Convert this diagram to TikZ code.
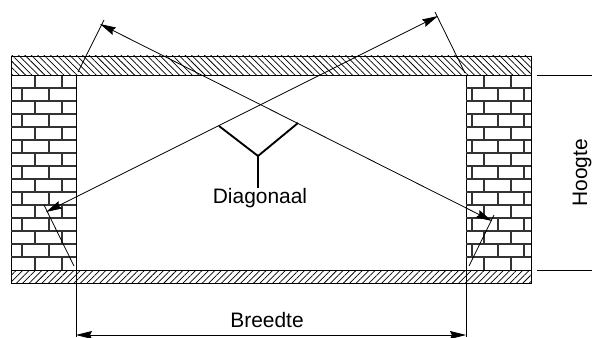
\documentclass[tikz,border=0pt]{standalone}
\usepackage{fontspec}
\setmainfont{Liberation Sans}
\usetikzlibrary{arrows.meta,patterns.meta,positioning}
\tikzstyle{slab}=[draw=black,line width=0.65pt]
\tikzstyle{wall}=[draw=black,line width=0.65pt,fill=white]
\tikzstyle{joint}=[draw=black!80,line width=0.9pt]
\tikzstyle{dimline}=[{Stealth[length=12pt,width=6pt,inset=1.5pt]}-{Stealth[length=12pt,width=6pt,inset=1.5pt]},line width=0.6pt]
\tikzstyle{extline}=[line width=0.6pt]
\tikzstyle{pointer}=[line width=1.4pt]
\tikzstyle{label}=[inner sep=0pt,font=\fontsize{15.7}{18}\selectfont]
\begin{document}
\begin{tikzpicture}[x=0.75pt,y=-0.75pt]
\useasboundingbox (0,0) rectangle (592,338);

% walls
\draw [wall] (11,75) rectangle (76,270);
\draw [wall] (466,75) rectangle (531,270);
\foreach \y in {88,101,...,257} {
  \draw [joint] (11,\y) -- (76,\y);
  \draw [joint] (466,\y) -- (531,\y);
}
\foreach \y in {75,101,...,257} {
  \foreach \x in {35,62,484,511} \draw [joint] (\x,\y) -- (\x,\y+13);
}
\foreach \y in {88,114,...,244} {
  \foreach \x in {22,49,472,498,524} \draw [joint] (\x,\y) -- (\x,\y+13);
}

% slabs
\draw [slab,pattern={Lines[angle=-45,distance=3.4pt,line width=0.55pt]}] (11,56) rectangle (531,75);
\draw [slab,pattern={Lines[angle=45,distance=3.4pt,line width=0.55pt]}] (11,270) rectangle (531,283);

% diagonals
\coordinate (tipa) at (100,24);
\coordinate (tipb) at (492,221);
\coordinate (tipc) at (46,212);
\coordinate (tipd) at (438,16);
\draw [dimline] (tipa) -- (tipb);
\draw [dimline] (tipc) -- (tipd);
\draw [extline] (78,72) -- (104,20);
\draw [extline] (44,205) -- (74,266);
\draw [extline] (435,12) -- (465,73);
\draw [extline] (494,215) -- (469,266);

% width
\coordinate (lefta) at (76,270);
\coordinate (leftb) at (76,337);
\coordinate (righta) at (466,270);
\coordinate (rightb) at (466,337);
\draw [extline] (lefta) -- (leftb);
\draw [extline] (righta) -- (rightb);
\draw [dimline] (76,335) -- (466,335);
\node (breedte) [label] at (267,320) {Breedte};

% height
\draw [extline] (537,75) -- (592,75);
\draw [extline] (537,270) -- (592,270);
\node (hoogte) [label,rotate=90] at (582,173) {Hoogte};

% pointer
\node (diagonaal) [label] at (260,198) {Diagonaal};
\coordinate (fork) at (258,156);
\draw [pointer] (219,126) -- (fork) -- (298,123);
\draw [pointer] (fork) -- (diagonaal.north -| fork);

\end{tikzpicture}
\end{document}
